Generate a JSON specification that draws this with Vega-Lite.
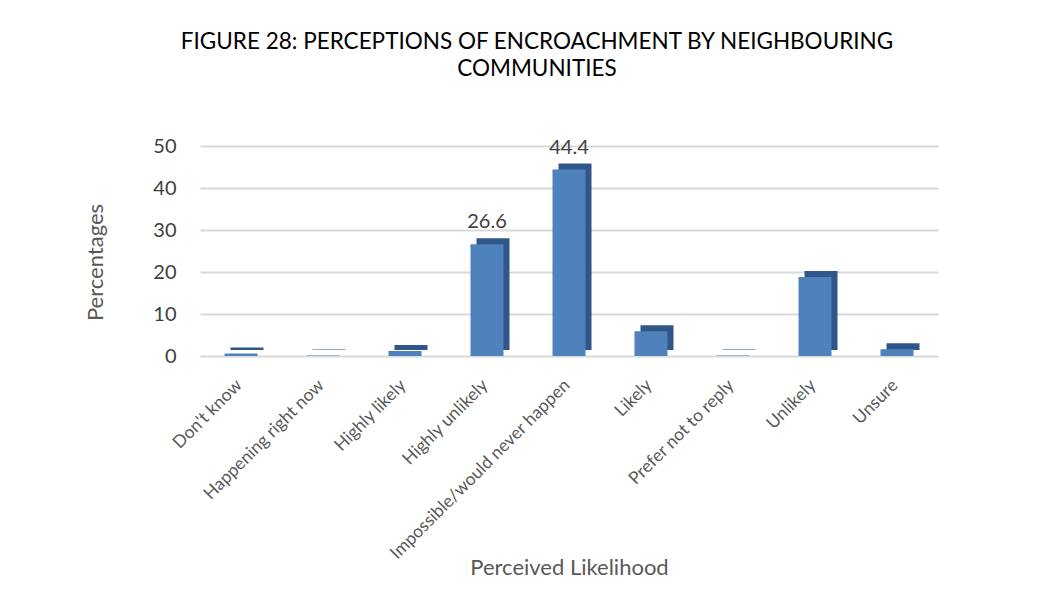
{
  "$schema": "https://vega.github.io/schema/vega-lite/v6.json",
  "width": 738,
  "height": 210,
  "autosize": {"type": "none"},
  "padding": {"left": 200, "top": 146, "right": 112, "bottom": 249},
  "background": "white",
  "title": {
    "text": ["FIGURE 28: PERCEPTIONS OF ENCROACHMENT BY NEIGHBOURING", "COMMUNITIES"],
    "font": "Lato",
    "fontSize": 22.5,
    "fontWeight": "normal",
    "color": "#000000",
    "anchor": "middle",
    "offset": 56,
    "lineHeight": 27,
    "dx": -32
  },
  "data": {
    "values": [
      {"category": "Don't know", "value": 0.6},
      {"category": "Happening right now", "value": 0.1},
      {"category": "Highly likely", "value": 1.2},
      {"category": "Highly unlikely", "value": 26.6, "label": "26.6"},
      {"category": "Impossible/would never happen", "value": 44.4, "label": "44.4"},
      {"category": "Likely", "value": 5.9},
      {"category": "Prefer not to reply", "value": 0.1},
      {"category": "Unlikely", "value": 18.8},
      {"category": "Unsure", "value": 1.6}
    ]
  },
  "encoding": {
    "x": {
      "field": "category",
      "type": "nominal",
      "sort": null,
      "scale": {"paddingInner": 0.6, "paddingOuter": 0.3},
      "axis": {
        "title": "Perceived Likelihood",
        "titleFont": "Lato",
        "titleFontSize": 22,
        "titleFontWeight": "normal",
        "titleColor": "#595959",
        "titleY": 211,
        "titleBaseline": "middle",
        "labelAngle": -45,
        "labelFont": "Lato",
        "labelFontSize": 17.5,
        "labelColor": "#595959",
        "labelPadding": 20,
        "labelOffset": -8,
        "labelLimit": 400,
        "domain": false,
        "ticks": false,
        "grid": false
      }
    },
    "y": {
      "field": "value",
      "type": "quantitative",
      "scale": {"domain": [0, 50]},
      "axis": {
        "title": "Percentages",
        "titleFont": "Lato",
        "titleFontSize": 22,
        "titleFontWeight": "normal",
        "titleColor": "#595959",
        "titleX": -105,
        "titleY": 116,
        "titleBaseline": "middle",
        "values": [0, 10, 20, 30, 40, 50],
        "labelFont": "Lato",
        "labelFontSize": 20,
        "labelColor": "#404040",
        "labelPadding": 24,
        "domain": false,
        "ticks": false,
        "grid": true,
        "gridColor": "#d9d9d9",
        "gridWidth": 2
      }
    }
  },
  "layer": [
    {
      "mark": {"type": "bar", "color": "#30568a", "xOffset": 6, "yOffset": -6, "y2Offset": -6, "size": 33},
      "encoding": {}
    },
    {
      "mark": {"type": "bar", "color": "#4f81bd", "size": 33},
      "encoding": {}
    },
    {
      "transform": [{"filter": "isValid(datum.label)"}],
      "mark": {"type": "text", "font": "Lato", "fontSize": 20, "color": "#404040", "dy": -22},
      "encoding": {"text": {"field": "label"}}
    }
  ],
  "config": {"view": {"stroke": null}}
}
